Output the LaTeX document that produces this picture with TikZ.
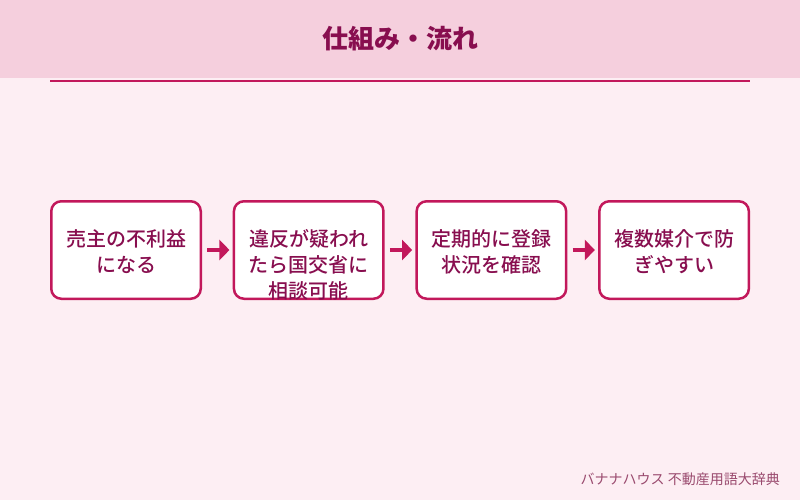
\documentclass[tikz,border=0pt]{standalone}
\usepackage{fontspec}
\setmainfont{Noto Sans CJK JP}
\newfontfamily\jpmedium{Noto Sans CJK JP Medium}
\usetikzlibrary{positioning,arrows.meta}
\definecolor{bgpink}{HTML}{FDEEF3}
\definecolor{headpink}{HTML}{F5CFDD}
\definecolor{rosered}{HTML}{C2185B}
\definecolor{winered}{HTML}{880E4F}
\definecolor{creditred}{HTML}{9A4A6E}

\begin{document}
\begin{tikzpicture}[
  x=1pt, y=-1pt,
  stepbox/.style={draw=rosered, fill=white, line width=2.5pt, rounded corners=10pt,
                  minimum width=149.5pt, minimum height=97.5pt, inner sep=0pt},
  steptext/.style={anchor=north, inner sep=0pt, align=center, text=winered,
                   font=\fontsize{20pt}{26pt}\selectfont\jpmedium},
  arr/.style={-{Triangle[length=10pt,width=20pt]}, line width=4pt, rosered,
              shorten <=5.25pt, shorten >=3.25pt},
]
% Background and header
\useasboundingbox (0,0) rectangle (800,500);
\fill[bgpink] (0,0) rectangle (800,500);
\fill[headpink] (0,0) rectangle (800,78);
\node[font=\fontsize{26pt}{30pt}\selectfont\bfseries, text=winered] (title) at (400,39) {仕組み・流れ};
\draw[rosered, line width=2pt] (50,80.7) -- (750,80.7);
% Steps
\node[stepbox] (s1) at (126,250) {};
\node[stepbox, right=30.7pt of s1] (s2) {};
\node[stepbox, right=30.7pt of s2] (s3) {};
\node[stepbox, right=30.7pt of s3] (s4) {};
\node[steptext] (t1) at ([yshift=-29pt]s1.north) {売主の不利益\\になる};
\node[steptext] (t2) at ([yshift=-29pt]s2.north) {違反が疑われ\\たら国交省に\\相談可能};
\node[steptext] (t3) at ([yshift=-29pt]s3.north) {定期的に登録\\状況を確認};
\node[steptext] (t4) at ([yshift=-29pt]s4.north) {複数媒介で防\\ぎやすい};
% Arrows
\draw[arr] (s1) -- (s2);
\draw[arr] (s2) -- (s3);
\draw[arr] (s3) -- (s4);
% Credit
\node[anchor=east, inner sep=0pt, text=creditred, font=\fontsize{14pt}{16pt}\selectfont] (credit) at (780,479) {バナナハウス 不動産用語大辞典};
\end{tikzpicture}
\end{document}
